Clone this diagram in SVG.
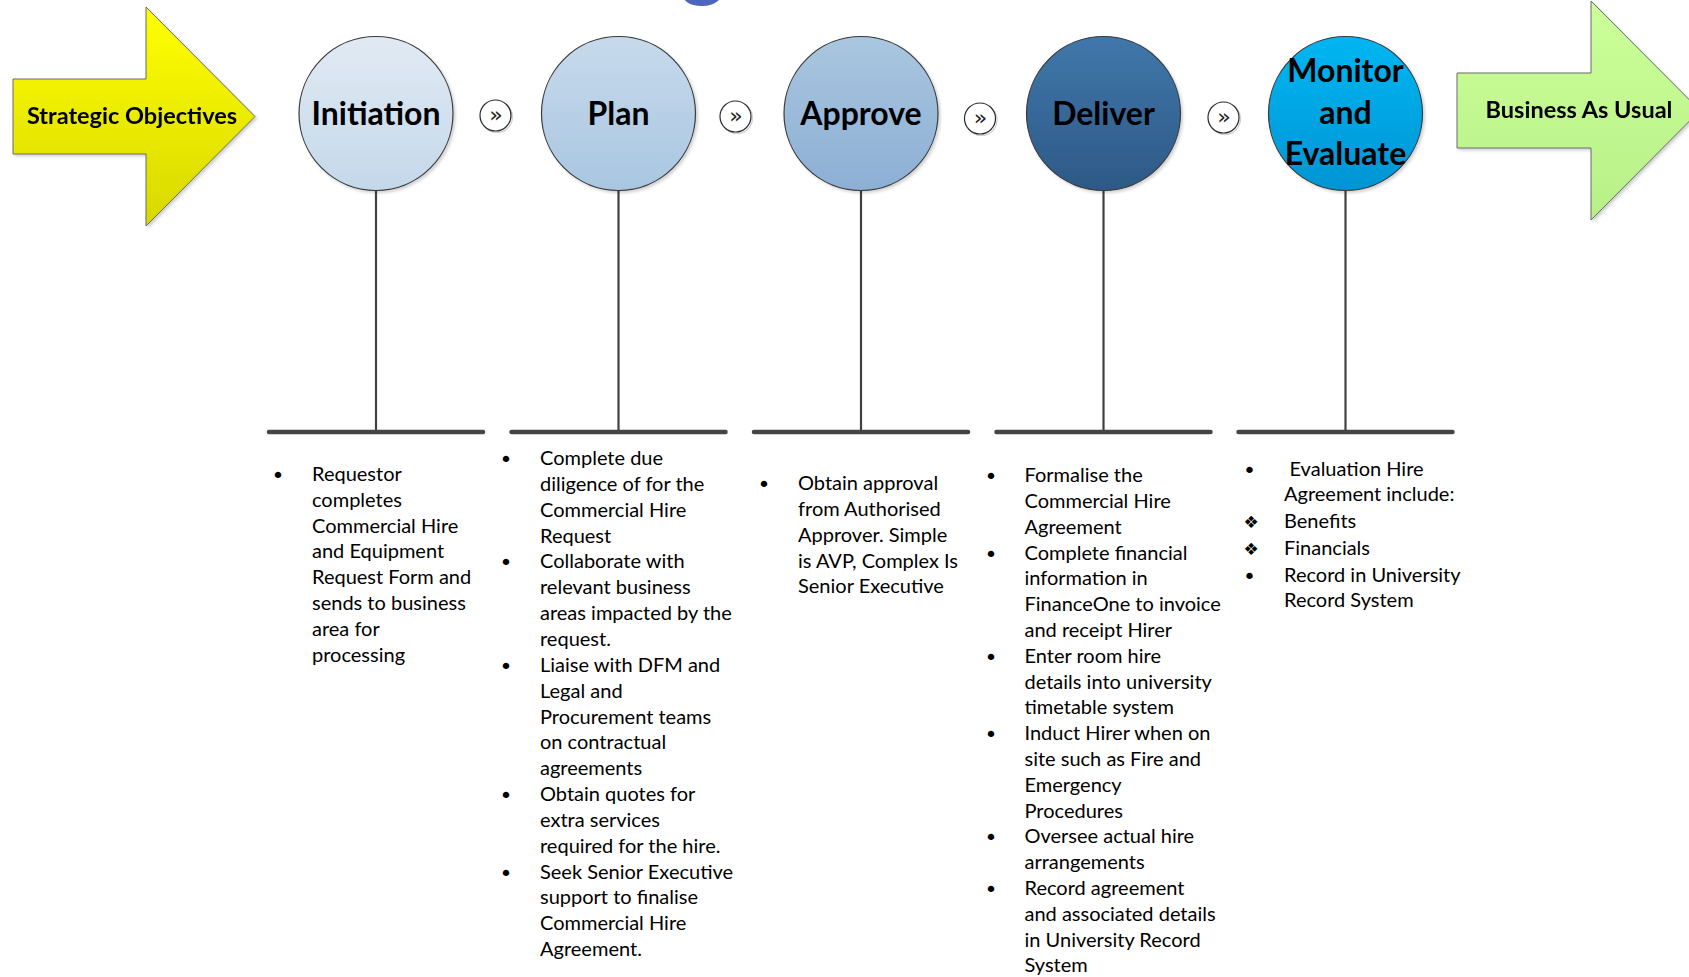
<svg xmlns="http://www.w3.org/2000/svg" width="1689" height="977" viewBox="0 0 1689 977">
<style>
.lbl{font-family:Lato,"Open Sans","Liberation Sans",sans-serif;font-weight:700;fill:#000;text-anchor:middle}
.big{font-size:32px}
.arr{font-size:23.5px}
.body{font-family:Lato,"Open Sans","Liberation Sans",sans-serif;font-size:20px;fill:#000}
.bul{font-family:"DejaVu Sans",sans-serif;font-size:22px;fill:#000;text-anchor:middle}
.dia{font-family:"DejaVu Sans",sans-serif;font-size:17px;fill:#000;text-anchor:middle}
.node{stroke:#3a3a3a;stroke-width:1.2}
.stem{stroke:#404040;stroke-width:2.2;fill:none}
.bar{stroke:#454545;stroke-width:4.5;stroke-linecap:round;fill:none}
.chev{fill:#fff;stroke:#2b2b2b;stroke-width:1.2}
.chevs{fill:none;stroke:#d0d0d0;stroke-width:1.2}
.chevt{font-family:"DejaVu Sans",sans-serif;font-size:22px;fill:#222;text-anchor:middle}
</style>
<defs>
<filter id="sh" x="-10%" y="-10%" width="130%" height="130%">
<feDropShadow dx="2" dy="2" stdDeviation="1.5" flood-color="#000" flood-opacity="0.18"/>
</filter>
<linearGradient id="gY" x1="0" y1="0" x2="0" y2="1"><stop offset="0" stop-color="#FFFF00"/><stop offset="1" stop-color="#D8D800"/></linearGradient>
<linearGradient id="gG" x1="0" y1="0" x2="0" y2="1"><stop offset="0" stop-color="#CCFF99"/><stop offset="1" stop-color="#B8F088"/></linearGradient>
<linearGradient id="g1" x1="0" y1="0" x2="0" y2="1"><stop offset="0" stop-color="#E1EAF3"/><stop offset="1" stop-color="#C4D8EA"/></linearGradient>
<linearGradient id="g2" x1="0" y1="0" x2="0" y2="1"><stop offset="0" stop-color="#C7DAEC"/><stop offset="1" stop-color="#A9C6E1"/></linearGradient>
<linearGradient id="g3" x1="0" y1="0" x2="0" y2="1"><stop offset="0" stop-color="#AAC6E0"/><stop offset="1" stop-color="#8CAFD4"/></linearGradient>
<linearGradient id="g4" x1="0" y1="0" x2="0" y2="1"><stop offset="0" stop-color="#4077AB"/><stop offset="1" stop-color="#2D5986"/></linearGradient>
<linearGradient id="g5" x1="0" y1="0" x2="0" y2="1"><stop offset="0" stop-color="#00B6F2"/><stop offset="1" stop-color="#0095D4"/></linearGradient>
</defs>
<rect width="1689" height="977" fill="#fff"/>

<g id="title-fragment"><text x="703" y="-10" font-family="Lato,'Liberation Sans',sans-serif" font-weight="700" font-size="84" fill="#4A66BF" text-anchor="middle">g</text></g>

<g id="connectors">
<line class="stem" x1="376" y1="190" x2="376" y2="432"/>
<line class="stem" x1="618.5" y1="190" x2="618.5" y2="432"/>
<line class="stem" x1="861" y1="190" x2="861" y2="432"/>
<line class="stem" x1="1103.5" y1="190" x2="1103.5" y2="432"/>
<line class="stem" x1="1345.5" y1="190" x2="1345.5" y2="432"/>
<line class="bar" x1="269" y1="432" x2="483" y2="432"/>
<line class="bar" x1="511.5" y1="432" x2="725.5" y2="432"/>
<line class="bar" x1="754" y1="432" x2="968" y2="432"/>
<line class="bar" x1="996.5" y1="432" x2="1210.5" y2="432"/>
<line class="bar" x1="1238.5" y1="432" x2="1452.5" y2="432"/>
</g>

<g id="strategic-objectives" filter="url(#sh)">
<path d="M13,79 L146,79 L146,7 L255,116.5 L146,226 L146,154 L13,154 Z" fill="url(#gY)" stroke="#6a6a6a" stroke-width="1"/>
<text class="lbl arr" x="132" y="123.5">Strategic Objectives</text>
</g>

<g id="business-as-usual" filter="url(#sh)">
<path d="M1457,73 L1591,73 L1591,1 L1700,110.5 L1591,220 L1591,148 L1457,148 Z" fill="url(#gG)" stroke="#6a6a6a" stroke-width="1"/>
<text class="lbl arr" x="1579" y="117.5">Business As Usual</text>
</g>

<g id="node-initiation">
<circle class="node" cx="376" cy="113.5" r="77" fill="url(#g1)" filter="url(#sh)"/>
<text class="lbl big" x="376" y="124.5">Initiation</text>
</g>
<g id="node-plan">
<circle class="node" cx="618.5" cy="113.5" r="77" fill="url(#g2)" filter="url(#sh)"/>
<text class="lbl big" x="618.5" y="124.5">Plan</text>
</g>
<g id="node-approve">
<circle class="node" cx="861" cy="113.5" r="77" fill="url(#g3)" filter="url(#sh)"/>
<text class="lbl big" x="861" y="124.5">Approve</text>
</g>
<g id="node-deliver">
<circle class="node" cx="1103.5" cy="113.5" r="77" fill="url(#g4)" filter="url(#sh)"/>
<text class="lbl big" x="1103.5" y="124.5">Deliver</text>
</g>
<g id="node-monitor">
<circle class="node" cx="1345.5" cy="113.5" r="77" fill="url(#g5)" filter="url(#sh)"/>
<text class="lbl big" x="1345.5" y="82">Monitor</text>
<text class="lbl big" x="1345.5" y="124">and</text>
<text class="lbl big" x="1345.5" y="165">Evaluate</text>
</g>

<g id="chevron-1"><circle class="chevs" cx="497" cy="117" r="15.5"/><circle class="chev" cx="495.5" cy="115.5" r="15.5"/><text class="chevt" x="496" y="122">»</text></g>
<g id="chevron-2"><circle class="chevs" cx="737" cy="118" r="15.5"/><circle class="chev" cx="735.5" cy="116.5" r="15.5"/><text class="chevt" x="736" y="123">»</text></g>
<g id="chevron-3"><circle class="chevs" cx="981.5" cy="120" r="15.5"/><circle class="chev" cx="980" cy="118.5" r="15.5"/><text class="chevt" x="980.5" y="125">»</text></g>
<g id="chevron-4"><circle class="chevs" cx="1225" cy="119" r="15.5"/><circle class="chev" cx="1223.5" cy="117.5" r="15.5"/><text class="chevt" x="1224" y="124">»</text></g>

<g id="text-initiation">
<text class="bul" x="278" y="483">•</text>
<text class="body" x="312" y="481">Requestor</text>
<text class="body" x="312" y="507">completes</text>
<text class="body" x="312" y="533">Commercial Hire</text>
<text class="body" x="312" y="558">and Equipment</text>
<text class="body" x="312" y="584">Request Form and</text>
<text class="body" x="312" y="610">sends to business</text>
<text class="body" x="312" y="636">area for</text>
<text class="body" x="312" y="662">processing</text>
</g>

<g id="text-plan">
<text class="bul" x="506" y="467">•</text>
<text class="bul" x="506" y="570.4">•</text>
<text class="bul" x="506" y="673.8">•</text>
<text class="bul" x="506" y="803">•</text>
<text class="bul" x="506" y="880.6">•</text>
<text class="body" x="540" y="465">Complete due</text>
<text class="body" x="540" y="490.9">diligence of for the</text>
<text class="body" x="540" y="516.7">Commercial Hire</text>
<text class="body" x="540" y="542.6">Request</text>
<text class="body" x="540" y="568.4">Collaborate with</text>
<text class="body" x="540" y="594.3">relevant business</text>
<text class="body" x="540" y="620.1">areas impacted by the</text>
<text class="body" x="540" y="646">request.</text>
<text class="body" x="540" y="671.8">Liaise with DFM and</text>
<text class="body" x="540" y="697.7">Legal and</text>
<text class="body" x="540" y="723.5">Procurement teams</text>
<text class="body" x="540" y="749.4">on contractual</text>
<text class="body" x="540" y="775.2">agreements</text>
<text class="body" x="540" y="801">Obtain quotes for</text>
<text class="body" x="540" y="826.9">extra services</text>
<text class="body" x="540" y="852.7">required for the hire.</text>
<text class="body" x="540" y="878.6">Seek Senior Executive</text>
<text class="body" x="540" y="904.4">support to finalise</text>
<text class="body" x="540" y="930.3">Commercial Hire</text>
<text class="body" x="540" y="956">Agreement.</text>
</g>

<g id="text-approve">
<text class="bul" x="764" y="492">•</text>
<text class="body" x="798" y="490">Obtain approval</text>
<text class="body" x="798" y="515.8">from Authorised</text>
<text class="body" x="798" y="541.7">Approver. Simple</text>
<text class="body" x="798" y="567.5">is AVP, Complex Is</text>
<text class="body" x="798" y="593.4">Senior Executive</text>
</g>

<g id="text-deliver">
<text class="bul" x="991" y="484">•</text>
<text class="bul" x="991" y="561.5">•</text>
<text class="bul" x="991" y="664.7">•</text>
<text class="bul" x="991" y="742.1">•</text>
<text class="bul" x="991" y="845.3">•</text>
<text class="bul" x="991" y="896.9">•</text>
<text class="body" x="1024.5" y="482">Formalise the</text>
<text class="body" x="1024.5" y="507.8">Commercial Hire</text>
<text class="body" x="1024.5" y="533.6">Agreement</text>
<text class="body" x="1024.5" y="559.5">Complete financial</text>
<text class="body" x="1024.5" y="585.3">information in</text>
<text class="body" x="1024.5" y="611.1">FinanceOne to invoice</text>
<text class="body" x="1024.5" y="636.9">and receipt Hirer</text>
<text class="body" x="1024.5" y="662.7">Enter room hire</text>
<text class="body" x="1024.5" y="688.5">details into university</text>
<text class="body" x="1024.5" y="714.3">timetable system</text>
<text class="body" x="1024.5" y="740.1">Induct Hirer when on</text>
<text class="body" x="1024.5" y="765.9">site such as Fire and</text>
<text class="body" x="1024.5" y="791.7">Emergency</text>
<text class="body" x="1024.5" y="817.5">Procedures</text>
<text class="body" x="1024.5" y="843.3">Oversee actual hire</text>
<text class="body" x="1024.5" y="869.1">arrangements</text>
<text class="body" x="1024.5" y="894.9">Record agreement</text>
<text class="body" x="1024.5" y="920.7">and associated details</text>
<text class="body" x="1024.5" y="946.5">in University Record</text>
<text class="body" x="1024.5" y="972">System</text>
</g>

<g id="text-monitor">
<text class="bul" x="1249.5" y="477.6">•</text>
<text class="dia" x="1251" y="528.4">❖</text>
<text class="dia" x="1251" y="555.3">❖</text>
<text class="bul" x="1249.5" y="584.2">•</text>
<text class="body" x="1289.5" y="475.6">Evaluation Hire</text>
<text class="body" x="1284" y="501.4">Agreement include:</text>
<text class="body" x="1284" y="528.4">Benefits</text>
<text class="body" x="1284" y="555.3">Financials</text>
<text class="body" x="1284" y="582.2">Record in University</text>
<text class="body" x="1284" y="607">Record System</text>
</g>
</svg>
